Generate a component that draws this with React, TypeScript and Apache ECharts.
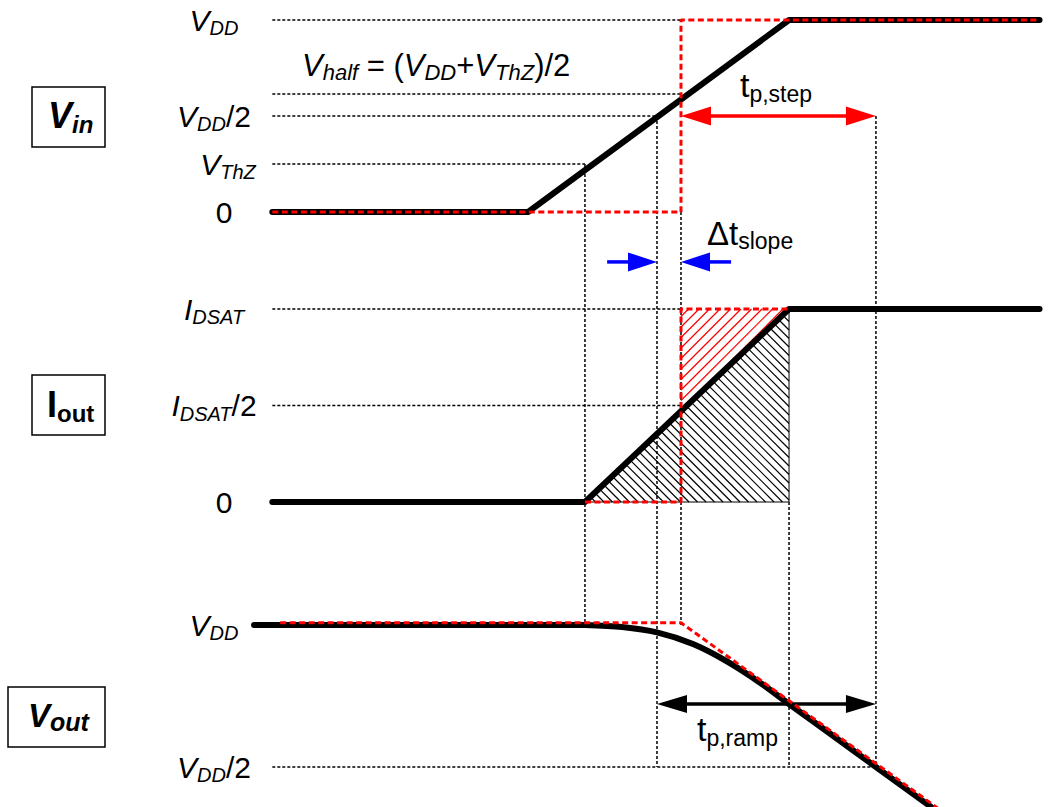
import React, { useEffect, useRef } from 'react';
import * as echarts from 'echarts';

// ---- time axis: the input ramp runs from t = 0 to t = 1 ----
const T_MIN = -1.1;
const T_MAX = 2.0;
const T_LEFT = -0.98; // left end of traces and guides
const T_RIGHT = 1.96; // right end of traces
const T_THZ = 0.218; // Vin reaches VThZ, current starts to flow
const T_HALF = 0.494; // Vin reaches VDD/2
const T_STEP = 0.586; // equivalent input step
const T_SAT = 1.0; // end of input ramp, current saturates
const T_OUT50 = 1.333; // Vout reaches VDD/2

// ---- levels (normalised to VDD / IDSAT) ----
const V_THZ = 0.25;
const V_HALF = 0.615;
const V_MID = 0.5;

// ---- waveforms ----
const vinRamp = [[T_LEFT, 0], [0, 0], [1, 1], [T_RIGHT, 1]];
const vinStep = [[T_LEFT, 0], [T_STEP, 0], [T_STEP, 1], [T_RIGHT, 1]];
const ioutRamp = [[T_LEFT, 0], [T_THZ, 0], [T_SAT, 1], [T_RIGHT, 1]];
const ioutStep = [[T_THZ, 0], [T_STEP, 0], [T_STEP, 1], [T_SAT, 1]];
const voutFlat = [[-1.05, 1], [0.218, 1]];
const voutFall = [
  [0.218, 1], [0.36, 0.993], [0.494, 0.974], [0.632, 0.933], [0.762, 0.872],
  [0.889, 0.797], [1.0, 0.722], [1.146, 0.625], [1.333, 0.5], [1.56, 0.349],
];
const voutStep = [[-0.95, 1.008], [0.586, 1.008], [1.585, 0.345]];

// ---- charge areas under the current waveforms ----
const areaRamp = [[T_THZ, 0], [T_SAT, 1], [T_SAT, 0]];
const areaStep = [[T_STEP, 0.47], [T_STEP, 1], [T_SAT, 1]];

// ---- tick labels ----
const vinTicks = [0, 0.25, 0.5, 1];
const vinTickLabels = ['{np|0}', '{mp|V}{s|ThZ}', '{m|V}{s|DD}{n|/2}', '{m|V}{s|DD}'];
const ioutTicks = [0, 0.5, 1];
const ioutTickLabels = ['{np|0}', '{m|I}{s|DSAT}{n|/2}', '{m|I}{s|DSAT}'];
const voutTicks = [0.5, 1];
const voutTickLabels = ['{m|V}{s|DD}{n|/2}', '{m|V}{s|DD}'];

// ---- dotted construction lines ----
// horizontal: [panel, level, tStart, tEnd]
const levelGuides: [string, number, number, number][] = [
  ['vin', 1, T_LEFT, T_STEP],
  ['vin', V_HALF, T_LEFT, T_STEP],
  ['vin', V_MID, T_LEFT, T_HALF],
  ['vin', V_THZ, T_LEFT, T_THZ],
  ['iout', 1, T_LEFT, T_STEP],
  ['iout', 0.5, T_LEFT, T_STEP],
  ['vout', 0.5, T_LEFT, T_OUT50],
];
// vertical: [t, fromPanel, fromLevel, toPanel, toLevel]
const timeGuides: [number, string, number, string, number][] = [
  [T_THZ, 'vin', V_THZ, 'vout', 1],
  [T_HALF, 'vin', V_MID, 'vout', 0.5],
  [T_STEP, 'vin', 0, 'vout', 1],
  [T_SAT, 'iout', 0, 'vout', 0.5],
  [T_OUT50, 'vin', V_MID, 'vout', 0.5],
];

// ---- arrows: [tTail, tTip, level, doubleHeaded] ----
const stepArrow = [[T_STEP, T_OUT50, V_MID, 1]];
const slopeArrows = [[0.303, T_HALF, -0.26, 0], [0.778, T_STEP, -0.26, 0]];
const rampArrow = [[T_HALF, T_OUT50, 0.722, 1]];

const FONT = "'Liberation Sans', Arial, Helvetica, sans-serif";
const RED = '#ff0000';
const BLUE = '#0000ff';

// panel placement on the page
const LAYOUT: Record<string, { top: number; height: number; min: number; max: number }> = {
  vin: { top: 20, height: 192, min: 0, max: 1 },
  iout: { top: 309, height: 193, min: 0, max: 1 },
  vout: { top: 625, height: 142, min: 0.5, max: 1 },
};
const GRID_LEFT = 241;
const GRID_WIDTH = 809;

// express a level of any panel in the units of the Vin panel
function inVinUnits(panel: string, v: number) {
  const p = LAYOUT[panel];
  const px = p.top + ((p.max - v) / (p.max - p.min)) * p.height;
  const q = LAYOUT.vin;
  return q.max - ((px - q.top) / q.height) * (q.max - q.min);
}

function richSet(main: number, sub: number, offset: number, opt: { italic?: boolean; subItalic?: boolean; bold?: boolean; color?: string }) {
  const lh = main + 6;
  const base = { fontFamily: FONT, color: opt.color || '#000' };
  const w = opt.bold ? 'bold' : 'normal';
  return {
    m: { ...base, fontSize: main, lineHeight: lh, fontStyle: opt.italic ? 'italic' : 'normal', fontWeight: w },
    n: { ...base, fontSize: main, lineHeight: lh, fontWeight: w },
    s: { ...base, fontSize: sub, lineHeight: lh - 2 * offset, verticalAlign: 'bottom', fontStyle: opt.subItalic ? 'italic' : 'normal', fontWeight: w },
    mp: { ...base, fontSize: main, lineHeight: lh, fontStyle: opt.italic ? 'italic' : 'normal', padding: [0, 0, 0, 28] },
    np: { ...base, fontSize: main, lineHeight: lh, padding: [0, 0, 0, 20] },
  };
}

const levelRich = richSet(30, 20, 8, { italic: true, subItalic: true });

function tickFormatter(ticks: number[], labels: string[]) {
  return (v: number) => {
    const i = ticks.findIndex((t) => Math.abs(t - v) < 1e-6);
    return i >= 0 ? labels[i] : '';
  };
}

function yAxisFor(idx: number, panel: string, interval: number, ticks: number[], labels: string[]) {
  const p = LAYOUT[panel];
  return {
    type: 'value',
    gridIndex: idx,
    min: p.min,
    max: p.max,
    interval,
    axisLine: { show: false },
    axisTick: { show: false },
    splitLine: { show: false },
    axisLabel: {
      formatter: tickFormatter(ticks, labels),
      rich: levelRich,
      align: 'center',
      margin: 27,
      color: '#000',
      fontFamily: FONT,
    },
  };
}

function hatchLines(pts: number[][], spacing: number, dir: number) {
  // lines y = dir * x + c in screen space, clipped to a convex polygon
  const cs = pts.map((p) => p[1] - dir * p[0]);
  const cMin = Math.min(...cs);
  const cMax = Math.max(...cs);
  const segs: number[][][] = [];
  for (let c = Math.ceil(cMin / spacing) * spacing; c <= cMax; c += spacing) {
    const hits: number[][] = [];
    for (let i = 0; i < pts.length; i++) {
      const p = pts[i];
      const q = pts[(i + 1) % pts.length];
      const fp = p[1] - dir * p[0] - c;
      const fq = q[1] - dir * q[0] - c;
      if ((fp <= 0 && fq >= 0) || (fp >= 0 && fq <= 0)) {
        if (fp === fq) continue;
        const s = fp / (fp - fq);
        hits.push([p[0] + (q[0] - p[0]) * s, p[1] + (q[1] - p[1]) * s]);
      }
    }
    if (hits.length >= 2) {
      hits.sort((a, b) => a[0] - b[0]);
      segs.push([hits[0], hits[hits.length - 1]]);
    }
  }
  return segs;
}

function hatchRender(poly: number[][], spacing: number, dir: number, color: string, outline: boolean) {
  return (_params: any, api: any) => {
    const pts = poly.map((p) => api.coord(p));
    const children: any[] = hatchLines(pts, spacing, dir).map((s) => ({
      type: 'line',
      shape: { x1: s[0][0], y1: s[0][1], x2: s[1][0], y2: s[1][1] },
      style: { stroke: color, lineWidth: 1.2 },
    }));
    if (outline) {
      children.push({ type: 'polygon', shape: { points: pts }, style: { fill: 'none', stroke: '#000', lineWidth: 1 } });
    }
    return { type: 'group', children };
  };
}

function arrowRender(color: string, headLen: number, headHalf: number, width: number) {
  return (_params: any, api: any) => {
    const a = api.coord([api.value(0), api.value(2)]);
    const b = api.coord([api.value(1), api.value(2)]);
    const dbl = api.value(3) === 1;
    const dx = b[0] - a[0];
    const dy = b[1] - a[1];
    const len = Math.hypot(dx, dy) || 1;
    const ux = dx / len;
    const uy = dy / len;
    const head = (tip: number[], sx: number, sy: number) => ({
      type: 'polygon',
      shape: {
        points: [
          tip,
          [tip[0] - sx * headLen - sy * headHalf, tip[1] - sy * headLen + sx * headHalf],
          [tip[0] - sx * headLen + sy * headHalf, tip[1] - sy * headLen - sx * headHalf],
        ],
      },
      style: { fill: color },
    });
    const start = dbl ? [a[0] + ux * headLen * 0.8, a[1] + uy * headLen * 0.8] : a;
    const end = [b[0] - ux * headLen * 0.8, b[1] - uy * headLen * 0.8];
    const children: any[] = [
      { type: 'line', shape: { x1: start[0], y1: start[1], x2: end[0], y2: end[1] }, style: { stroke: color, lineWidth: width } },
      head(b, ux, uy),
    ];
    if (dbl) children.push(head(a, -ux, -uy));
    return { type: 'group', children };
  };
}

const guideSegments = [
  ...levelGuides.map(([panel, v, t0, t1]) => [[t0, inVinUnits(panel, v)], [t1, inVinUnits(panel, v)]]),
  ...timeGuides.map(([t, p0, v0, p1, v1]) => [[t, inVinUnits(p0, v0)], [t, inVinUnits(p1, v1)]]),
];

function signal(data: number[][], grid: number, style: any, extra: any = {}) {
  return {
    type: 'line',
    xAxisIndex: grid,
    yAxisIndex: grid,
    data,
    symbol: 'none',
    clip: false,
    silent: true,
    lineStyle: style,
    ...extra,
  };
}

const solid = { color: '#000', width: 6, cap: 'round', join: 'round' };
const dashed = { color: RED, width: 3, type: [6, 3.5], cap: 'butt' };

function boxLabel(x: number, y: number, w: number, h: number, tx: number, ty: number, text: string, rich: any) {
  return {
    type: 'group',
    children: [
      { type: 'rect', shape: { x, y, width: w, height: h }, style: { fill: '#fff', stroke: '#000', lineWidth: 1.5 } },
      { type: 'text', x: tx, y: ty, style: { text, rich, align: 'left', verticalAlign: 'middle' } },
    ],
  };
}

function note(x: number, y: number, text: string, rich: any) {
  return { type: 'text', x, y, style: { text, rich, align: 'left', verticalAlign: 'middle' } };
}

const option: any = {
  animation: false,
  backgroundColor: '#fff',
  grid: ['vin', 'iout', 'vout'].map((k) => ({
    left: GRID_LEFT,
    width: GRID_WIDTH,
    top: LAYOUT[k].top,
    height: LAYOUT[k].height,
    outerBoundsMode: 'none',
  })),
  xAxis: [0, 1, 2].map((i) => ({ type: 'value', gridIndex: i, min: T_MIN, max: T_MAX, show: false })),
  yAxis: [
    yAxisFor(0, 'vin', 0.25, vinTicks, vinTickLabels),
    yAxisFor(1, 'iout', 0.5, ioutTicks, ioutTickLabels),
    yAxisFor(2, 'vout', 0.5, voutTicks, voutTickLabels),
  ],
  series: [
    {
      type: 'custom',
      xAxisIndex: 0,
      yAxisIndex: 0,
      clip: false,
      silent: true,
      data: guideSegments.map((_, i) => [i]),
      renderItem: (params: any, api: any) => {
        const seg = guideSegments[params.dataIndex];
        const a = api.coord(seg[0]);
        const b = api.coord(seg[1]);
        return {
          type: 'line',
          shape: { x1: a[0], y1: a[1], x2: b[0], y2: b[1] },
          style: { stroke: '#000', lineWidth: 1.5, lineDash: [3, 2] },
        };
      },
    },
    {
      type: 'custom', xAxisIndex: 1, yAxisIndex: 1, clip: false, silent: true, data: [[0]],
      renderItem: hatchRender(areaRamp, 8.5, 1, '#000', true),
    },
    {
      type: 'custom', xAxisIndex: 1, yAxisIndex: 1, clip: false, silent: true, data: [[0]],
      renderItem: hatchRender(areaStep, 10.5, -1, RED, false),
    },
    signal(vinRamp, 0, solid),
    signal(ioutRamp, 1, solid),
    signal(voutFlat, 2, solid),
    signal(voutFall, 2, solid, { smooth: 0.3 }),
    signal(vinStep, 0, dashed),
    signal(ioutStep, 1, dashed),
    signal(voutStep, 2, dashed),
    {
      type: 'custom', xAxisIndex: 0, yAxisIndex: 0, clip: false, silent: true, data: stepArrow,
      renderItem: arrowRender(RED, 30, 9.5, 3.5),
    },
    {
      type: 'custom', xAxisIndex: 0, yAxisIndex: 0, clip: false, silent: true, data: slopeArrows,
      renderItem: arrowRender(BLUE, 29, 9.5, 3.5),
    },
    {
      type: 'custom', xAxisIndex: 2, yAxisIndex: 2, clip: false, silent: true, data: rampArrow,
      renderItem: arrowRender('#000', 30, 9, 3.5),
    },
  ],
  graphic: [
    boxLabel(32, 87, 73, 60, 48, 115, '{m|V}{s|in}', richSet(36, 24, 9, { italic: true, subItalic: true, bold: true })),
    boxLabel(32, 375, 73, 60, 47, 404, '{m|I}{s|out}', richSet(36, 24, 8.5, { bold: true })),
    boxLabel(8, 687, 97, 60, 28, 715, '{m|V}{s|out}', richSet(33, 25, 9, { italic: true, subItalic: true, bold: true })),
    note(302, 65, '{m|V}{s|half}{n| = (}{m|V}{s|DD}{n|+}{m|V}{s|ThZ}{n|)/2}', richSet(31, 22, 8, { italic: true, subItalic: true })),
    note(740, 85, '{n|t}{s|p,step}', richSet(34, 23, 7, { color: RED })),
    note(707, 233, '{n|Δt}{s|slope}', richSet(33, 23, 6, { color: BLUE })),
    note(697, 729, '{n|t}{s|p,ramp}', richSet(34, 23, 8, {})),
  ],
};

export default function App() {
  const ref = useRef<HTMLDivElement>(null);
  useEffect(() => {
    if (!ref.current) return;
    const chart = echarts.init(ref.current, undefined, { renderer: 'svg' });
    chart.setOption(option);
    return () => chart.dispose();
  }, []);
  return (
    <div
      ref={ref}
      style={{ position: 'fixed', left: 0, top: 0, width: 1050, height: 807, background: '#fff' }}
    />
  );
}
